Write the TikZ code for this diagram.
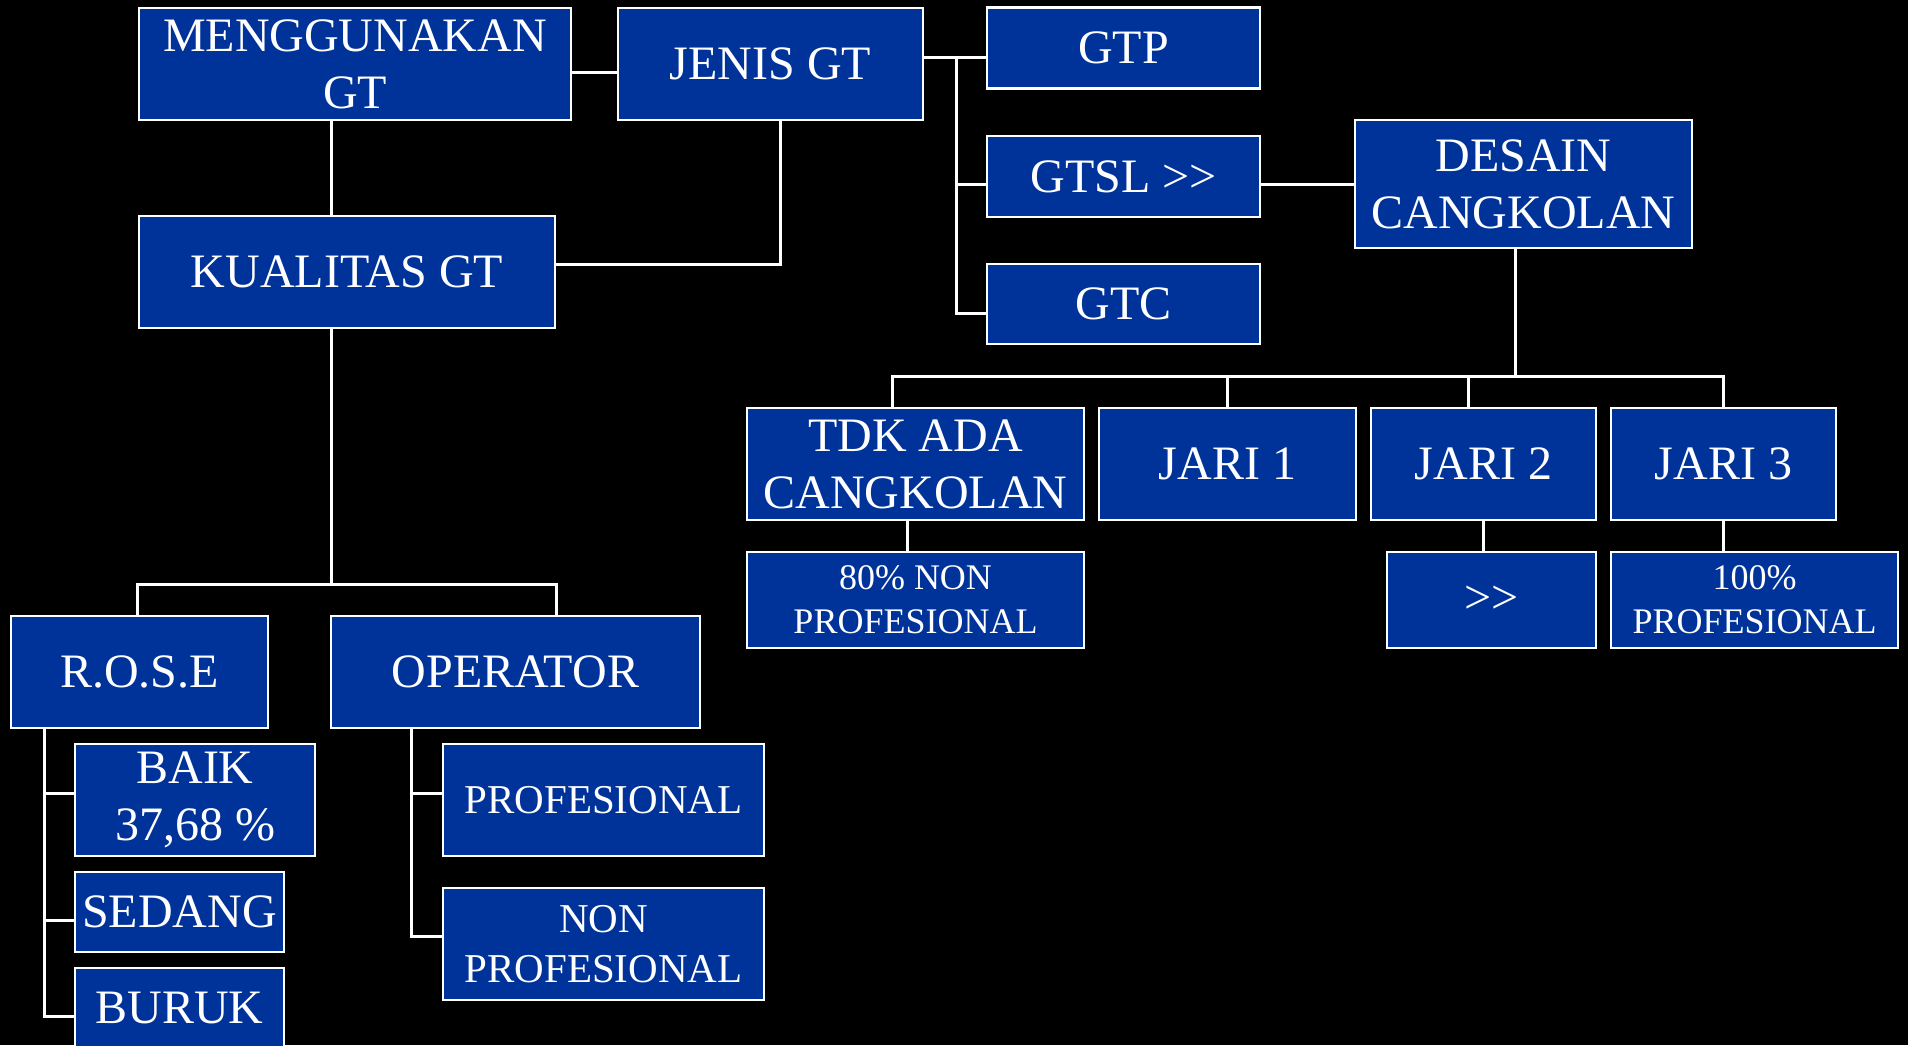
\documentclass[tikz,border=0pt]{standalone}
\usepackage{fontspec}
\setmainfont{Liberation Serif}
\usetikzlibrary{calc}
\definecolor{boxblue}{RGB}{0,51,153}
\newcommand\bigtxt{\fontsize{48}{57}\selectfont}
\newcommand\midtxt{\fontsize{41}{50}\selectfont}
\newcommand\smalltxt{\fontsize{36}{44}\selectfont}
\tikzset{
  box/.style={draw=white, line width=2.5pt, fill=boxblue, text=white,
    inner sep=0pt, align=center, font=\bigtxt},
  link/.style={white, line width=3pt}
}
\begin{document}
\begin{tikzpicture}[x=1pt,y=-1pt]
\path[use as bounding box, fill=black] (0,0) rectangle (1908,1045);
\clip (0,0) rectangle (1908,1045);
% top row
\node[box, minimum width=432, minimum height=112] (meng) at (355,64) {MENGGUNAKAN\\GT};
\node[box, minimum width=305, minimum height=112] (jenis) at (770.5,64) {JENIS GT};
\node[box, minimum width=416, minimum height=112] (kual) at (347,272) {KUALITAS GT};
\node[box, minimum width=273, minimum height=81] (gtp) at (1123.5,48) {GTP};
\node[box, minimum width=273, minimum height=81] (gtsl) at (1123.5,176.5) {GTSL >{}>};
\node[box, minimum width=273, minimum height=80] (gtc) at (1123.5,304) {GTC};
\node[box, minimum width=337, minimum height=128] (desain) at (1523.5,184) {DESAIN\\CANGKOLAN};
% cangkolan
\node[box, minimum width=337, minimum height=112] (tdk) at (915.5,464) {TDK ADA\\CANGKOLAN};
\node[box, minimum width=257, minimum height=112] (jari1) at (1227.5,464) {JARI 1};
\node[box, minimum width=225, minimum height=112] (jari2) at (1483.5,464) {JARI 2};
\node[box, minimum width=225, minimum height=112] (jari3) at (1723.5,464) {JARI 3};
\node[box, font=\smalltxt, minimum width=337, minimum height=96] (npro80) at (915.5,600) {80\% NON\\PROFESIONAL};
\node[box, minimum width=209, minimum height=96] (gt2) at (1491.5,600) {>{}>};
\node[box, font=\smalltxt, minimum width=287, minimum height=96] (pro100) at (1754.5,600) {100\%\\PROFESIONAL};
% kualitas
\node[box, minimum width=257, minimum height=112] (rose) at (139.5,672) {R.O.S.E};
\node[box, minimum width=369, minimum height=112] (oper) at (515.5,672) {OPERATOR};
\node[box, minimum width=240, minimum height=112] (baik) at (195,800) {BAIK\\37,68 \%};
\node[box, minimum width=209, minimum height=80] (sedang) at (179.5,912) {SEDANG};
\node[box, minimum width=209, minimum height=80] (buruk) at (179.5,1008) {BURUK};
\node[box, font=\midtxt, minimum width=321, minimum height=112] (prof) at (603.5,800) {PROFESIONAL};
\node[box, font=\midtxt, minimum width=321, minimum height=112] (nprof) at (603.5,944) {NON\\PROFESIONAL};
% connectors
\coordinate (kx) at (331,584);
\coordinate (gx) at (956,57);
\coordinate (dy) at (0,376);
\coordinate (rx) at (44,1016);
\coordinate (ox) at (411,936);
\draw[link] ([yshift=-8pt]meng.east) -- ([yshift=-8pt]meng.east -| jenis.west);
\draw[link] (meng.south -| kx) -- (kual.north -| kx);
\draw[link] ([xshift=10pt]jenis.south) |- ([yshift=8pt]kual.east);
\draw[link] ([yshift=7pt]jenis.east) -- ([yshift=-9pt]gtp.west);
\draw[link] (gx) |- ([yshift=-9pt]gtc.west);
\draw[link] (gx |- desain) -- (gtsl.west |- desain);
\draw[link] (gtsl.east |- desain) -- (desain.west);
\draw[link] ([xshift=-8.5pt]desain.south) -- ([xshift=-8.5pt]desain.south |- dy);
\draw[link] ([xshift=-23.5pt]tdk.north) |- (dy -| jari3.north) -- (jari3.north);
\draw[link] (jari1.north) -- (jari1.north |- dy);
\draw[link] ([xshift=-15.5pt]jari2.north) -- ([xshift=-15.5pt]jari2.north |- dy);
\draw[link] ([xshift=-8.5pt]tdk.south) -- ([xshift=-8.5pt]tdk.south |- npro80.north);
\draw[link] (jari2.south) -- (jari2.south |- gt2.north);
\draw[link] (jari3.south) -- (jari3.south |- pro100.north);
\draw[link] (kual.south -| kx) -- (kx);
\draw[link] (rose.north -| kual.west) -- (kual.west |- kx) -- (kual.east |- kx) -- (oper.north -| kual.east);
\draw[link] (rose.south -| rx) -- (rx) -- (rx -| buruk.west);
\draw[link] ([yshift=7pt]baik.west) -- ++(-31,0);
\draw[link] ([yshift=-8pt]sedang.west) -- ++(-31,0);
\draw[link] (oper.south -| ox) -- (ox) -- (ox -| nprof.west);
\draw[link] ([yshift=7pt]prof.west) -- ++(-32,0);
\end{tikzpicture}
\end{document}
